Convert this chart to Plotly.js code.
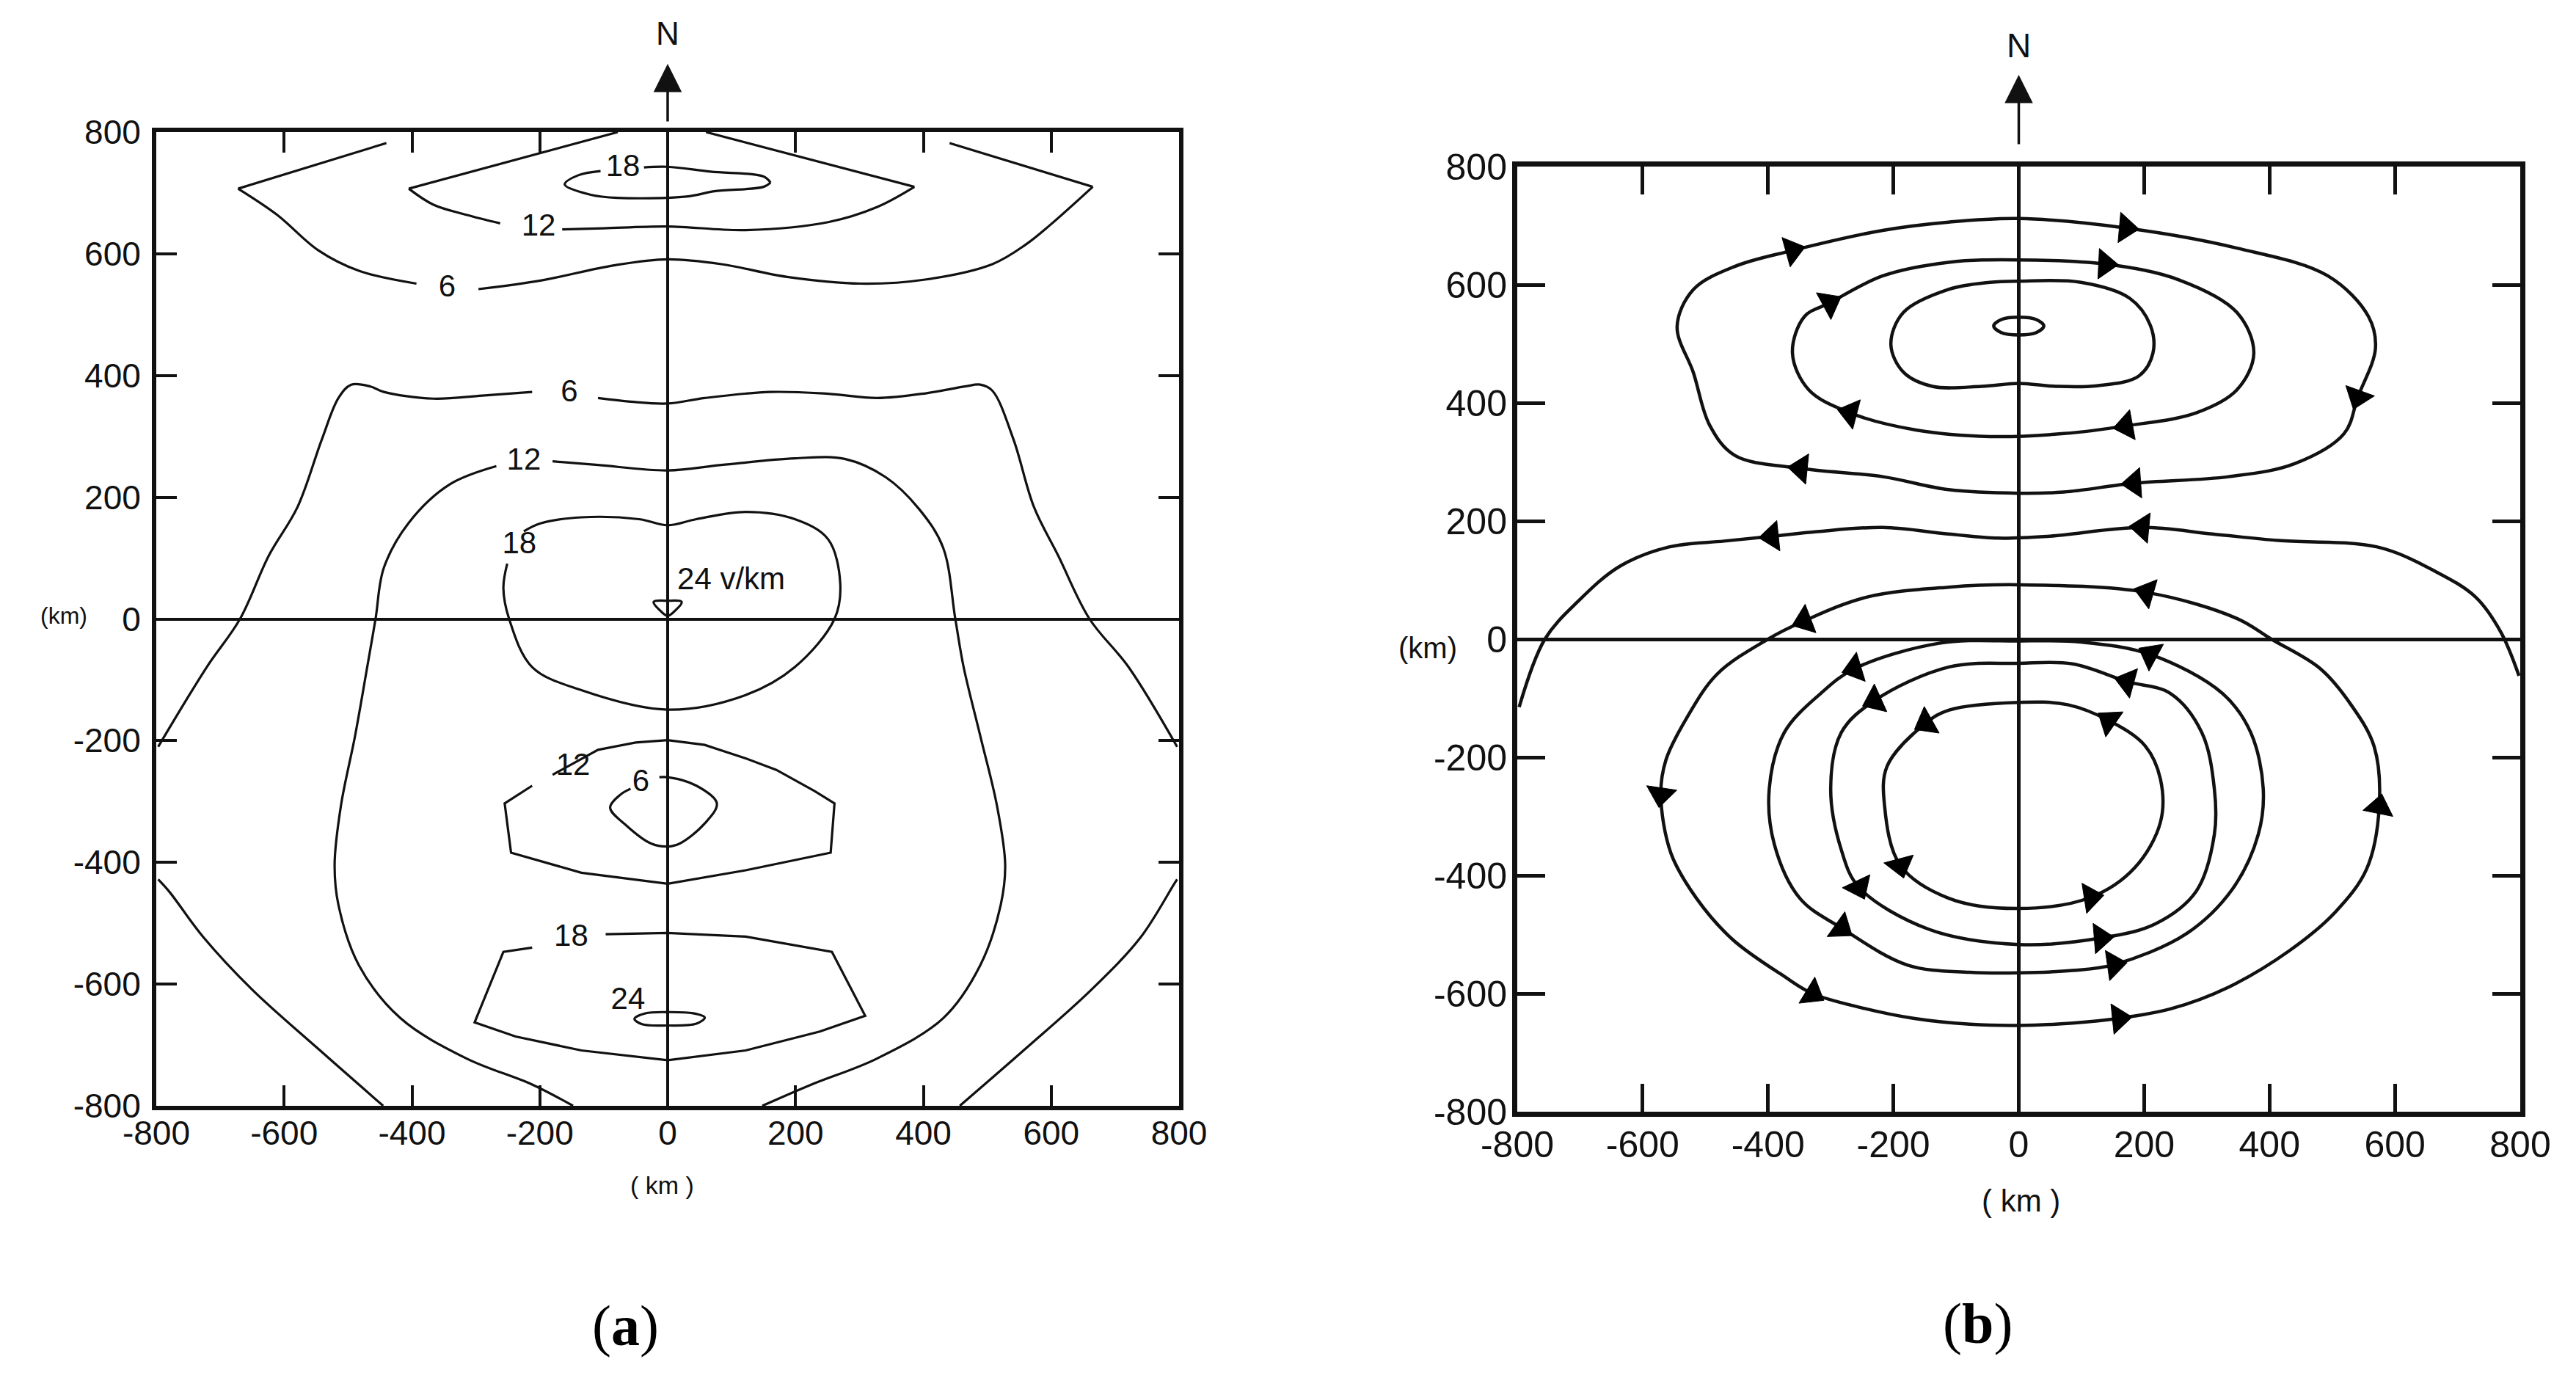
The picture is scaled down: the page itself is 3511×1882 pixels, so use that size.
<!DOCTYPE html>
<html><head><meta charset="utf-8">
<script src="https://cdn.plot.ly/plotly-3.0.1.min.js"></script>
<style>html,body{margin:0;padding:0;background:#fff}</style>
</head><body><div id="chart" style="width:3511px;height:1882px"></div>
<script>
// ---------- tick labels ----------
const TICK_VALS = [-800, -600, -400, -200, 0, 200, 400, 600, 800];
const TICK_TEXT = ['-800', '-600', '-400', '-200', '0', '200', '400', '600', '800'];

// ---------- panel (a): electric field contours (v/km), km coordinates ----------
const A6T_ARM_L_X = [-440, -672];  const A6T_ARM_L_Y = [782, 707];
const A6T_CRV_L_X = [-672, -611, -547, -483, -393];  const A6T_CRV_L_Y = [707, 664, 606, 572, 551];
const A6T_CRV_R_X = [-296, -199, -84, 0, 84, 187, 302, 405, 508, 560, 598, 665];
const A6T_CRV_R_Y = [542, 556, 581, 591, 583, 562, 551, 558, 583, 615, 647, 710];
const A6T_ARM_R_X = [665, 441];  const A6T_ARM_R_Y = [710, 782];

const A12T_ARM_L_X = [-78, -405];  const A12T_ARM_L_Y = [800, 707];
const A12T_CRV_L_X = [-405, -367, -315, -262];  const A12T_CRV_L_Y = [707, 681, 664, 650];
const A12T_CRV_R_X = [-165, -100, 0, 122, 251, 328, 386];  const A12T_CRV_R_Y = [640, 642, 645, 639, 652, 677, 710];
const A12T_ARM_R_X = [386, 60];  const A12T_ARM_R_Y = [710, 800];

const A18T_UP_X = [-37, 0, 67, 150, 161];  const A18T_UP_Y = [742, 743, 735, 727, 717];
const A18T_LO_X = [161, 150, 75, 29, -79, -120, -161, -140, -105];
const A18T_LO_Y = [717, 710, 703, 694, 692, 697, 714, 729, 736];

const A6M_1_X = [-797, -721, -669, -624, -579, -541, -515, -495, -465, -444, -367, -290, -212];
const A6M_1_Y = [-210, -79, 0, 104, 184, 295, 363, 385, 382, 373, 362, 367, 373];
const A6M_2_X = [-109, -58, 0, 58, 161, 251, 328, 405, 465, 489, 508, 541, 573, 611, 660, 721, 797];
const A6M_2_Y = [363, 357, 354, 363, 373, 370, 363, 371, 382, 385, 375, 295, 184, 104, 0, -79, -210];

const A12M_L_X = [-268, -341, -405, -444, -457, -470, -489, -511, -521, -515, -483, -418, -315, -212, -148];
const A12M_L_Y = [251, 221, 158, 84, 0, -79, -192, -306, -404, -470, -569, -656, -722, -765, -800];
const A12M_R_X = [-180, -109, 0, 84, 199, 277, 341, 393, 431, 450, 463, 489, 515, 528, 521, 489, 431, 328, 225, 148];
const A12M_R_Y = [259, 253, 244, 253, 264, 263, 233, 181, 117, 0, -79, -192, -306, -404, -470, -569, -656, -722, -765, -800];

const A18M_X = [-251, -257, -248, -212, -135, 0, 122, 199, 261, 270, 251, 199, 122, 45, 0, -45, -135, -199, -225];
const A18M_Y = [91, 51, 0, -79, -117, -149, -125, -79, 0, 58, 131, 164, 176, 164, 154, 164, 167, 157, 144];

const A24C_X = [-22, 0, 22, 12, 0, -12, -22];  const A24C_Y = [28, 30, 28, 14, 5, 14, 28];

const A12L_X = [-180, -109, -50, 0, 58, 122, 170, 230, 261, 255, 122, 0, -135, -245, -255, -212];
const A12L_Y = [-256, -215, -203, -199, -207, -229, -248, -283, -303, -384, -413, -435, -417, -384, -303, -274];
const A6L_X = [-13, 0, 45, 77, 58, 19, 0, -26, -64, -90, -73, -58];
const A6L_Y = [-260, -260, -274, -303, -336, -369, -374, -369, -340, -310, -288, -279];
const A18L_X = [-97, 0, 122, 257, 309, 238, 122, 0, -135, -238, -302, -257, -212];
const A18L_Y = [-518, -516, -522, -547, -652, -678, -709, -725, -709, -686, -663, -547, -540];
const A24L_X = [-52, -35, 0, 40, 58, 45, 0, -40, -52];
const A24L_Y = [-657, -648, -646, -648, -655, -665, -668, -666, -657];
const A6B_L_X = [-797, -779, -727, -650, -547, -445];  const A6B_L_Y = [-428, -449, -522, -609, -706, -800];
const A6B_R_X = [797, 792, 740, 663, 560, 457];  const A6B_R_Y = [-428, -436, -523, -609, -706, -800];

const A_LABEL_TEXT = ['18', '12', '6', '6', '12', '18', '24 v/km', '12', '6', '18', '24'];
const A_LABEL_X = [-70, -202, -345, -154, -225, -232, 15, -148, -42, -151, -62];
const A_LABEL_Y = [740, 643, 542, 370, 258, 120, 61, -244, -270, -525, -628];

// ---------- panel (b): current streamlines (ordered along flow), km ----------
const B_UP_OUTER_X = [-112, 0, 171, 348, 493, 558, 569, 541, 519, 440, 335, 184, 72, 0, -112, -217, -348, -453, -493, -519, -545, -519, -453, -361, -217, -112];
const B_UP_OUTER_Y = [706, 712, 696, 662, 615, 546, 492, 410, 348, 297, 275, 264, 249, 247, 253, 275, 289, 311, 362, 451, 529, 592, 631, 658, 692, 706];
const B_UP_OUTER_ARROWS = [2, 7, 11, 16, 23];
const B_UP_MID_X = [-112, 0, 138, 256, 348, 375, 348, 283, 171, 72, -46, -164, -269, -335, -361, -342, -302, -217, -112];
const B_UP_MID_Y = [638, 642, 635, 608, 553, 484, 422, 383, 361, 348, 343, 354, 383, 422, 484, 546, 569, 615, 638];
const B_UP_MID_ARROWS = [2, 8, 12, 16];
const B_UP_IN_X = [0, 99, 177, 210, 214, 191, 125, 59, 0, -59, -138, -184, -204, -184, -112, -46, 0];
const B_UP_IN_Y = [606, 604, 577, 531, 484, 445, 429, 428, 433, 428, 428, 452, 499, 553, 592, 604, 606];
const B_UP_IN_ARROWS = [];
const B_CORE_X = [0, 28, 40, 28, 0, -28, -40, -28, 0];
const B_CORE_Y = [545, 541, 530, 519, 515, 519, 530, 541, 545];
const B_CORE_ARROWS = [];
const B_MIDLINE_X = [798, 769, 729, 664, 572, 414, 309, 197, 46, -33, -112, -217, -322, -394, -470, -558, -637, -703, -756, -797];
const B_MIDLINE_Y = [-62, 12, 71, 115, 156, 167, 178, 189, 174, 171, 178, 189, 182, 174, 166, 156, 123, 64, 0, -115];
const B_MIDLINE_ARROWS = [7, 13];
const B_LO_OUTER_X = [0, -112, -243, -342, -400, -481, -530, -563, -571, -555, -514, -456, -374, -329, -251, -168, -78, 0, 86, 160, 242, 333, 431, 505, 555, 575, 567, 530, 481, 403, 348, 204, 0];
const B_LO_OUTER_Y = [92, 88, 71, 31, 0, -59, -134, -205, -263, -362, -439, -509, -571, -600, -624, -642, -652, -654, -650, -642, -626, -590, -528, -462, -389, -284, -182, -111, -50, 0, 35, 79, 92];
const B_LO_OUTER_ARROWS = [3, 8, 13, 19, 25, 31];
const B_LO_R2_X = [0, -127, -262, -316, -374, -398, -390, -349, -283, -177, -78, 0, 86, 152, 267, 341, 382, 390, 370, 325, 210, 100, 0];
const B_LO_R2_Y = [-3, -7, -50, -92, -158, -253, -347, -439, -489, -552, -564, -565, -561, -551, -499, -423, -331, -253, -158, -92, -26, -5, -3];
const B_LO_R2_ARROWS = [2, 8, 13, 20];
const B_LO_R3_X = [0, -111, -230, -283, -300, -283, -255, -144, 0, 131, 218, 283, 312, 312, 292, 242, 173, 86, 0];
const B_LO_R3_Y = [-41, -47, -104, -158, -253, -357, -420, -491, -517, -506, -482, -427, -331, -253, -158, -92, -72, -42, -41];
const B_LO_R3_ARROWS = [2, 6, 9, 16];
const B_LO_R4_X = [0, -111, -148, -210, -214, -189, -111, 0, 115, 185, 226, 226, 201, 144, 78, 0];
const B_LO_R4_Y = [-107, -120, -142, -215, -283, -383, -439, -456, -437, -387, -310, -237, -180, -138, -111, -107];
const B_LO_R4_ARROWS = [2, 5, 8, 13];

// ---------- build traces ----------
const A_PIECES = [
  [A6T_ARM_L_X, A6T_ARM_L_Y, 'linear'], [A6T_CRV_L_X, A6T_CRV_L_Y, 'spline'],
  [A6T_CRV_R_X, A6T_CRV_R_Y, 'spline'], [A6T_ARM_R_X, A6T_ARM_R_Y, 'linear'],
  [A12T_ARM_L_X, A12T_ARM_L_Y, 'linear'], [A12T_CRV_L_X, A12T_CRV_L_Y, 'spline'],
  [A12T_CRV_R_X, A12T_CRV_R_Y, 'spline'], [A12T_ARM_R_X, A12T_ARM_R_Y, 'linear'],
  [A18T_UP_X, A18T_UP_Y, 'spline'], [A18T_LO_X, A18T_LO_Y, 'spline'],
  [A6M_1_X, A6M_1_Y, 'spline'], [A6M_2_X, A6M_2_Y, 'spline'],
  [A12M_L_X, A12M_L_Y, 'spline'], [A12M_R_X, A12M_R_Y, 'spline'],
  [A18M_X, A18M_Y, 'spline'], [A24C_X, A24C_Y, 'spline'],
  [A12L_X, A12L_Y, 'linear'], [A6L_X, A6L_Y, 'spline'],
  [A18L_X, A18L_Y, 'linear'], [A24L_X, A24L_Y, 'spline'],
  [A6B_L_X, A6B_L_Y, 'spline'], [A6B_R_X, A6B_R_Y, 'spline']
];
const B_LINES = [
  [B_UP_OUTER_X, B_UP_OUTER_Y, B_UP_OUTER_ARROWS], [B_UP_MID_X, B_UP_MID_Y, B_UP_MID_ARROWS],
  [B_UP_IN_X, B_UP_IN_Y, B_UP_IN_ARROWS], [B_CORE_X, B_CORE_Y, B_CORE_ARROWS],
  [B_MIDLINE_X, B_MIDLINE_Y, B_MIDLINE_ARROWS],
  [B_LO_OUTER_X, B_LO_OUTER_Y, B_LO_OUTER_ARROWS], [B_LO_R2_X, B_LO_R2_Y, B_LO_R2_ARROWS],
  [B_LO_R3_X, B_LO_R3_Y, B_LO_R3_ARROWS], [B_LO_R4_X, B_LO_R4_Y, B_LO_R4_ARROWS]
];

const traces = [];
A_PIECES.forEach(p => traces.push({
  type: 'scatter', mode: 'lines', x: p[0], y: p[1], xaxis: 'x', yaxis: 'y',
  line: {color: '#111', width: 3.2, shape: p[2], smoothing: 1}, hoverinfo: 'skip'
}));
traces.push({
  type: 'scatter', mode: 'text', x: A_LABEL_X, y: A_LABEL_Y, text: A_LABEL_TEXT,
  textposition: A_LABEL_TEXT.map(t => t.length > 3 ? 'middle right' : 'middle center'),
  textfont: {family: 'Liberation Sans, Arial, sans-serif', size: 42, color: '#111'},
  xaxis: 'x', yaxis: 'y', hoverinfo: 'skip'
});
B_LINES.forEach(p => {
  const sizes = p[0].map((_, i) => p[2].includes(i) ? 36 : 0);
  traces.push({
    type: 'scatter', mode: 'lines+markers', x: p[0], y: p[1], xaxis: 'x2', yaxis: 'y2',
    line: {color: '#111', width: 4.5, shape: 'spline', smoothing: 1},
    marker: {symbol: 'triangle-up', size: sizes, color: '#000', opacity: 1, angleref: 'previous',
             line: {width: 1, color: '#000'}},
    hoverinfo: 'skip'
  });
});

function axis(domain, anchor, fs, lw, tl, tw, standoff) {
  return {
    domain: domain, anchor: anchor, range: [-800, 800], autorange: false,
    tickmode: 'array', tickvals: TICK_VALS, ticktext: TICK_TEXT,
    ticks: 'inside', ticklen: tl, tickwidth: tw, tickcolor: '#111',
    showline: true, linewidth: lw, linecolor: '#111', mirror: 'ticks',
    showgrid: false, zeroline: true, zerolinewidth: lw - 2, zerolinecolor: '#111',
    tickfont: {family: 'Liberation Sans, Arial, sans-serif', size: fs, color: '#111'},
    ticklabelstandoff: standoff, fixedrange: true
  };
}
const W = 3511, H = 1882;
const px = v => v / W, py = v => 1 - v / H;
const fontS = (s) => ({family: 'Liberation Sans, Arial, sans-serif', size: s, color: '#111'});
function note(text, xref, x, yPix, font) {
  return {text: text, xref: xref, yref: 'paper', x: x, y: py(yPix), showarrow: false,
          xanchor: 'center', yanchor: 'middle', font: font};
}
function northArrow(xref, tipPix, len) {
  return {text: '', xref: xref, yref: 'paper', x: 0, y: py(tipPix), ax: 0, ay: len,
          showarrow: true, arrowhead: 2, arrowsize: 2.2, arrowwidth: 3.5, arrowcolor: '#111'};
}
const serif = {family: 'Liberation Serif, Times New Roman, serif', size: 78, color: '#000'};

const layout = {
  width: W, height: H, margin: {l: 0, r: 0, t: 0, b: 0},
  paper_bgcolor: '#fff', plot_bgcolor: '#fff', showlegend: false,
  xaxis: axis([px(213), px(1607)], 'y', 46, 6, 28, 4, -8),
  yaxis: axis([py(1507), py(180)], 'x', 46, 6, 28, 4, 6),
  xaxis2: axis([px(2068), px(3435)], 'y2', 50, 7, 38, 5, -5),
  yaxis2: axis([py(1515), py(227)], 'x2', 50, 7, 38, 5, -3),
  annotations: [
    note('(km)', 'paper', px(87), 839, fontS(32)),
    note('( km )', 'paper', px(902), 1615, fontS(34)),
    note('(km)', 'paper', px(1946), 883, fontS(40)),
    note('( km )', 'paper', px(2754), 1636, fontS(42)),
    note('N', 'x', 0, 46, fontS(44)),
    note('N', 'x2', 0, 62, fontS(46)),
    northArrow('x', 87, 80),
    northArrow('x2', 102, 96),
    note('(<b>a</b>)', 'paper', px(852), 1806, serif),
    note('(<b>b</b>)', 'paper', px(2695), 1803, serif)
  ]
};
Plotly.newPlot('chart', traces, layout, {staticPlot: true, displayModeBar: false});
</script></body></html>
